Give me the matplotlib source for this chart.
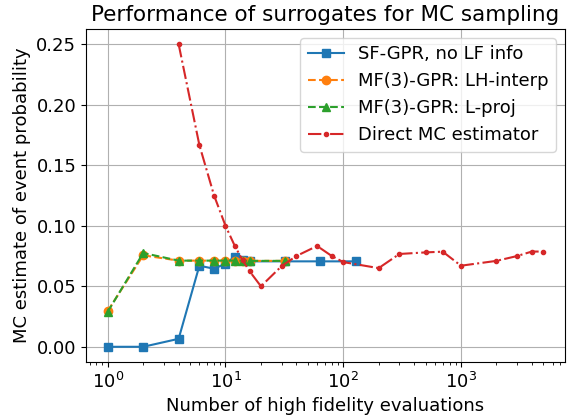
import numpy as np
import matplotlib
matplotlib.use("Agg")
import matplotlib.pyplot as plt

# data
n_sf = [1, 2, 4, 6, 8, 10, 12, 14, 16, 32, 64, 128]
p_sf = [0.0, 0.0, 0.0066, 0.067, 0.0645, 0.0687, 0.0745, 0.0717, 0.0706, 0.0706, 0.0706, 0.0706]

n_mf = [1, 2, 4, 6, 8, 10, 12, 14, 16, 32]
p_lh = [0.0296, 0.0756, 0.0712, 0.0712, 0.0712, 0.0712, 0.0712, 0.0712, 0.0710, 0.0710]
p_lproj = [0.0290, 0.0775, 0.0712, 0.0712, 0.0712, 0.0712, 0.0712, 0.0712, 0.0710, 0.0710]

n_mc = [4, 6, 8, 10, 12, 14, 16, 20, 30, 40, 60, 80, 100, 200, 300, 500, 700,
        1000, 2000, 3000, 4000, 5000]
p_mc = [0.25, 0.1667, 0.125, 0.1, 0.0833, 0.0714, 0.0625, 0.05, 0.0667, 0.075,
        0.0833, 0.075, 0.07, 0.065, 0.0767, 0.078, 0.0786, 0.067, 0.071, 0.075,
        0.0787, 0.0787]

labels = ["SF-GPR, no LF info", "MF(3)-GPR: LH-interp", "MF(3)-GPR: L-proj",
          "Direct MC estimator"]

fig = plt.figure(figsize=(5.71, 4.16), dpi=100)
ax = fig.add_subplot(111)
fig.subplots_adjust(left=0.1506, right=0.9895, top=0.930, bottom=0.130)

ax.plot(n_sf, p_sf, 's-', color='tab:blue', label=labels[0])
ax.plot(n_mf, p_lh, 'o--', color='tab:orange', label=labels[1])
ax.plot(n_mf, p_lproj, '^--', color='tab:green', label=labels[2])
ax.plot(n_mc, p_mc, '.-.', color='tab:red', label=labels[3])

ax.set_xscale('log')
ax.grid(True)
ax.set_title("Performance of surrogates for MC sampling", fontsize=15.5)
ax.set_xlabel("Number of high fidelity evaluations", fontsize=13)
ax.set_ylabel("MC estimate of event probability", fontsize=13)
ax.set_yticks([0.0, 0.05, 0.10, 0.15, 0.20, 0.25])
ax.yaxis.set_major_formatter(matplotlib.ticker.FormatStrFormatter('%.2f'))
ax.tick_params(labelsize=13)
ax.legend(loc='upper right', fontsize=13)

fig.savefig("out.png", dpi=100)
